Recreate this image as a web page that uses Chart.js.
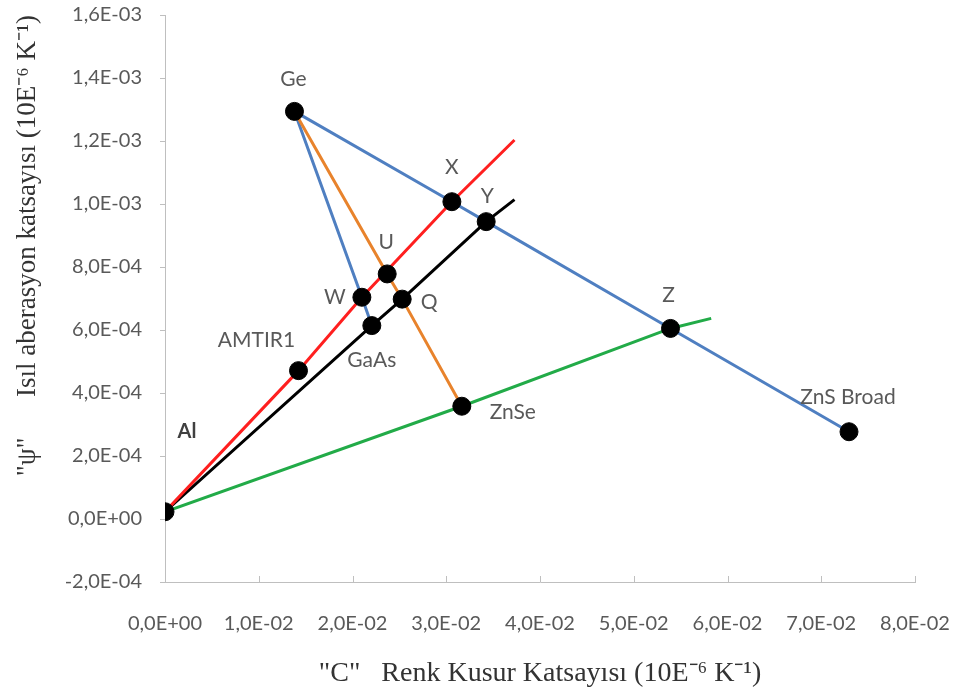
<!DOCTYPE html>
<html>
<head>
<meta charset="utf-8">
<title>Isıl aberasyon / Renk kusur diyagramı</title>
<script src="https://cdn.jsdelivr.net/npm/chart.js@4.4.1/dist/chart.umd.min.js"></script>
<style>
    html, body { margin: 0; padding: 0; background: #ffffff; }
    #wrap { width: 955px; height: 688px; }
</style>
</head>
<body>
<div id="wrap"><canvas id="diagram" width="955" height="688"></canvas></div>
<script>
// Materials (C = renk kusur katsayısı, Psi = ısıl aberasyon katsayısı)
const materials = ['Al', 'AMTIR1', 'GaAs', 'W', 'U', 'Q', 'X', 'Y', 'Ge', 'ZnSe', 'Z', 'ZnS Broad'];
const cValues   = [0.0, 0.01424, 0.02206, 0.0210, 0.0237, 0.0253, 0.0306, 0.03426, 0.01381, 0.03166, 0.05392, 0.07296];
const psiValues = [2.3e-5, 4.71e-4, 6.14e-4, 7.04e-4, 7.78e-4, 6.98e-4, 1.0073e-3, 9.44e-4, 1.294e-3, 3.58e-4, 6.05e-4, 2.77e-4];

// Unmarked end points of the three lines from the origin
const endNames = ['redEnd', 'blackEnd', 'greenEnd'];
const endC     = [0.03728, 0.03728, 0.05826];
const endPsi   = [1.203e-3, 1.0137e-3, 6.37e-4];

// Line paths, by point name
const redPath    = ['Al', 'AMTIR1', 'W', 'X', 'redEnd'];
const blackPath  = ['Al', 'GaAs', 'Q', 'Y', 'blackEnd'];
const greenPath  = ['Al', 'ZnSe', 'Z', 'greenEnd'];
const bluePath   = ['Ge', 'X', 'Y', 'Z', 'ZnS Broad'];
const blueShort  = ['Ge', 'W', 'GaAs'];
const orangePath = ['Ge', 'U', 'Q', 'ZnSe'];

// Axis ranges
const cMin = 0, cMax = 0.08, cStep = 0.01;
const psiMin = -2e-4, psiMax = 1.6e-3, psiStep = 2e-4;

// Label placement around each point (px, text centre)
const labelDx = [22, -42, 0, -27, -1, 27, 0, 1, -1, 51, -2, -1];
const labelDy = [-80, -30, 35, 0, -32, 3, -34, -25, -32, 6, -33, -35];

const AXIS_GREY = '#bfbfbf';
const TEXT_GREY = '#595959';

function lookup(name) {
    let i = materials.indexOf(name);
    if (i >= 0) return { x: cValues[i], y: psiValues[i] };
    i = endNames.indexOf(name);
    return { x: endC[i], y: endPsi[i] };
}

function pathData(path) {
    return path.map(lookup);
}

// "1,6E-03" style numbers
function fmtSci(v) {
    if (Math.abs(v) < 1e-12) return '0,0E+00';
    let exp = Math.floor(Math.log10(Math.abs(v)) + 1e-9);
    let mant = Math.round(v / Math.pow(10, exp) * 10) / 10;
    if (Math.abs(mant) >= 10) { mant /= 10; exp += 1; }
    const sign = exp < 0 ? '-' : '+';
    return mant.toFixed(1).replace('.', ',') + 'E' + sign + String(Math.abs(exp)).padStart(2, '0');
}

function lineSet(path, color) {
    return {
        data: pathData(path),
        showLine: true,
        borderColor: color,
        borderWidth: 3,
        pointRadius: 0,
        pointHoverRadius: 0,
        fill: false,
        tension: 0,
        order: 1
    };
}

// point names and inner tick marks on the C axis
const annotate = {
    id: 'annotate',
    afterDraw(chart) {
        const ctx = chart.ctx;
        const xs = chart.scales.x;
        const ys = chart.scales.y;

        ctx.save();
        ctx.strokeStyle = AXIS_GREY;
        ctx.lineWidth = 1;
        xs.ticks.forEach(t => {
            const px = Math.round(xs.getPixelForValue(t.value)) + 0.5;
            ctx.beginPath();
            ctx.moveTo(px, ys.bottom);
            ctx.lineTo(px, ys.bottom - 6);
            ctx.stroke();
        });

        ctx.textAlign = 'center';
        ctx.textBaseline = 'middle';
        materials.forEach((name, i) => {
            const px = xs.getPixelForValue(cValues[i]) + labelDx[i];
            const py = ys.getPixelForValue(psiValues[i]) + labelDy[i];
            if (name === 'Al') {
                ctx.font = 'bold 20px Lato';
                ctx.fillStyle = '#404040';
            } else {
                ctx.font = '21px Lato';
                ctx.fillStyle = TEXT_GREY;
            }
            ctx.fillText(name, px, py);
        });
        ctx.restore();
    }
};

function init() {
    const ctx = document.getElementById('diagram').getContext('2d');

    new Chart(ctx, {
        type: 'scatter',
        data: {
            datasets: [
                {
                    data: materials.map(lookup),
                    backgroundColor: '#000000',
                    borderColor: '#000000',
                    pointRadius: 9,
                    pointHoverRadius: 9,
                    showLine: false,
                    order: 0
                },
                lineSet(greenPath, '#22ab48'),
                lineSet(redPath, '#ff1f1f'),
                lineSet(blackPath, '#000000'),
                lineSet(orangePath, '#e8832c'),
                lineSet(blueShort, '#4f7fc1'),
                lineSet(bluePath, '#4f7fc1')
            ]
        },
        options: {
            responsive: false,
            animation: false,
            layout: { padding: { top: 15, right: 40, left: 0, bottom: 0 } },
            plugins: {
                legend: { display: false },
                tooltip: { enabled: false }
            },
            scales: {
                x: {
                    type: 'linear',
                    min: cMin,
                    max: cMax,
                    // fixed band under the plot; label overhang is left to the page padding
                    afterFit: s => { s.height = 106; s.paddingLeft = 0; s.paddingRight = 0; },
                    grid: { display: false, drawTicks: false },
                    border: { display: true, color: AXIS_GREY, width: 1 },
                    ticks: {
                        stepSize: cStep,
                        padding: 30,
                        color: TEXT_GREY,
                        font: { family: 'Lato', size: 20 },
                        maxRotation: 0,
                        autoSkip: false,
                        callback: v => fmtSci(v)
                    },
                    title: {
                        display: true,
                        text: '"C"   Renk Kusur Katsayısı (10E⁻⁶ K⁻¹)',
                        color: '#333333',
                        font: { family: 'Liberation Serif', size: 28 },
                        padding: { top: 0, bottom: -2 }
                    }
                },
                y: {
                    type: 'linear',
                    min: psiMin,
                    max: psiMax,
                    afterFit: s => { s.width = 165; s.paddingTop = 0; s.paddingBottom = 0; },
                    grid: { drawOnChartArea: false, drawTicks: true, tickLength: 5, color: AXIS_GREY },
                    border: { display: true, color: AXIS_GREY, width: 1 },
                    ticks: {
                        stepSize: psiStep,
                        padding: 18,
                        color: TEXT_GREY,
                        font: { family: 'Lato', size: 20 },
                        autoSkip: false,
                        callback: v => fmtSci(v)
                    },
                    title: {
                        display: true,
                        align: 'end',
                        text: '"ψ"      Isıl aberasyon katsayısı (10E⁻⁶ K⁻¹)',
                        color: '#333333',
                        font: { family: 'Liberation Serif', size: 27 },
                        padding: { top: 12, bottom: 0 }
                    }
                }
            }
        },
        plugins: [annotate]
    });
}

document.addEventListener('DOMContentLoaded', init);
</script>
</body>
</html>
